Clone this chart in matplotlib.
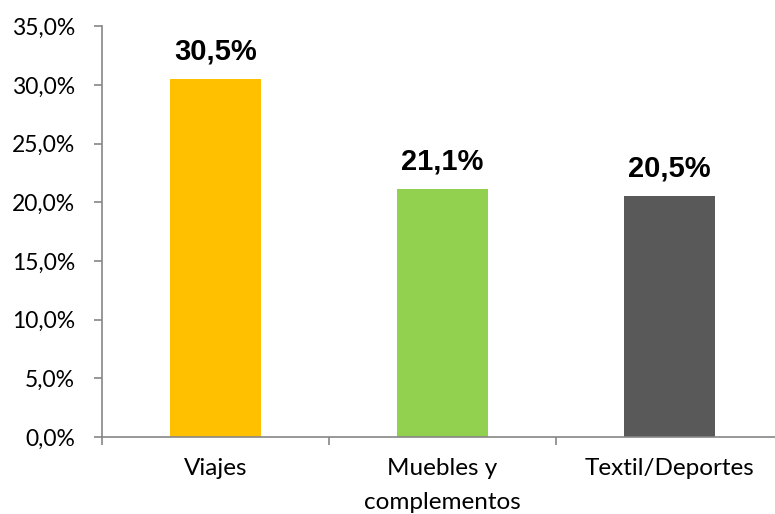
import matplotlib
matplotlib.use("Agg")
import matplotlib.pyplot as plt
from matplotlib.ticker import FuncFormatter, FixedLocator

categories = ["Viajes", "Muebles y\ncomplementos", "Textil/Deportes"]
values = [30.5, 21.1, 20.5]
colors = ["#FFC000", "#92D050", "#595959"]
yticks = [0, 5, 10, 15, 20, 25, 30, 35]

W, H = 775, 514
fig = plt.figure(figsize=(W / 100, H / 100), dpi=100)
ax = fig.add_axes([102 / W, (H - 437) / H, 681 / W, (437 - 26.3) / H])

x = range(len(categories))
bars = ax.bar(x, values, width=0.4, color=colors, zorder=2)
ax.set_xlim(-0.5, len(categories) - 0.5)
ax.set_ylim(0, 35)
ax.set_yticks(yticks)
ax.yaxis.set_major_formatter(FuncFormatter(lambda v, p: f"{v:.1f}%".replace(".", ",")))

for spine in ["top", "right"]:
    ax.spines[spine].set_visible(False)
for spine in ["left", "bottom"]:
    ax.spines[spine].set_color("#868686")
    ax.spines[spine].set_linewidth(1.2)

ax.set_xticks(list(x))
ax.set_xticklabels(categories, fontsize=17.5, family="Lato", linespacing=1.8)
ax.tick_params(axis="x", which="major", length=0, pad=15)
ax.xaxis.set_minor_locator(FixedLocator([i - 0.5 for i in range(len(categories) + 1)]))
ax.tick_params(axis="x", which="minor", length=6, color="#868686", width=1.2)
ax.tick_params(axis="y", length=5.5, color="#868686", width=1.2, labelsize=16.5, pad=14)
for lab in ax.get_yticklabels():
    lab.set_family("Lato")
for lab in ax.get_xticklabels():
    lab.set_verticalalignment("top")

for xi, v in zip(x, values):
    ax.annotate(f"{v:.1f}%".replace(".", ","), (xi, v), xytext=(0, 10),
                textcoords="offset points", ha="center", va="bottom",
                fontsize=21, fontweight="bold", family="Liberation Sans")

fig.savefig("out.png", dpi=100)
